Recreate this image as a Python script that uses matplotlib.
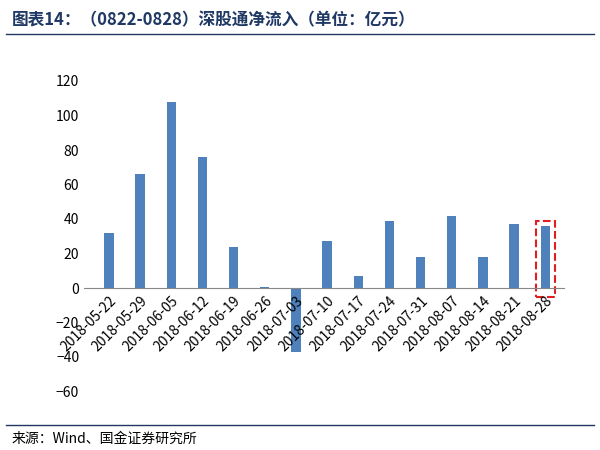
import matplotlib
matplotlib.use("Agg")
import matplotlib.pyplot as plt
from matplotlib.patches import Rectangle

plt.rcParams["font.family"] = ["Noto Sans CJK SC", "DejaVu Sans"]

dates = ["2018-05-22", "2018-05-29", "2018-06-05", "2018-06-12", "2018-06-19",
         "2018-06-26", "2018-07-03", "2018-07-10", "2018-07-17", "2018-07-24",
         "2018-07-31", "2018-08-07", "2018-08-14", "2018-08-21", "2018-08-28"]
inflow = [32, 66, 108, 76, 23.5, 0.5, -37, 27.5, 7, 39, 18, 42, 18, 37, 36]

fig = plt.figure(figsize=(6, 4.5), dpi=100)
ax = fig.add_axes([0.14, 0.13, 0.80, 0.69])
x = range(len(dates))
ax.bar(x, inflow, width=0.3, color="#4f81bd")
ax.set_ylim(-60, 120)
ax.set_yticks(range(-60, 121, 20))
ax.set_xlim(-0.8, len(dates) - 0.4)
for s in ["top", "right", "left"]:
    ax.spines[s].set_visible(False)
ax.spines["bottom"].set_position(("data", 0))
ax.spines["bottom"].set_color("#888888")
ax.set_xticks(list(x))
ax.set_xticklabels(dates, fontsize=10)
plt.setp(ax.get_xticklabels(), rotation=45, ha="right", rotation_mode="anchor")
ax.tick_params(axis="y", labelsize=10, length=0)
ax.tick_params(axis="x", length=0, pad=4)

last = len(dates) - 1
ax.add_patch(Rectangle((last - 0.3, -5), 0.6, inflow[last] + 8, fill=False,
                       edgecolor="#e02020", linestyle="--", linewidth=1.5))

fig.text(0.02, 0.955, "图表14：（0822-0828）深股通净流入（单位：亿元）",
         fontsize=12, fontweight="bold", style="italic", color="#1f3864", va="center")
fig.add_artist(plt.Line2D([0.01, 0.99], [0.925, 0.925], color="#1f3864", lw=1))
fig.add_artist(plt.Line2D([0.01, 0.99], [0.055, 0.055], color="#1f3864", lw=1))
fig.text(0.02, 0.025, "来源：Wind、国金证券研究所", fontsize=10, va="center")

fig.savefig("out.png")
